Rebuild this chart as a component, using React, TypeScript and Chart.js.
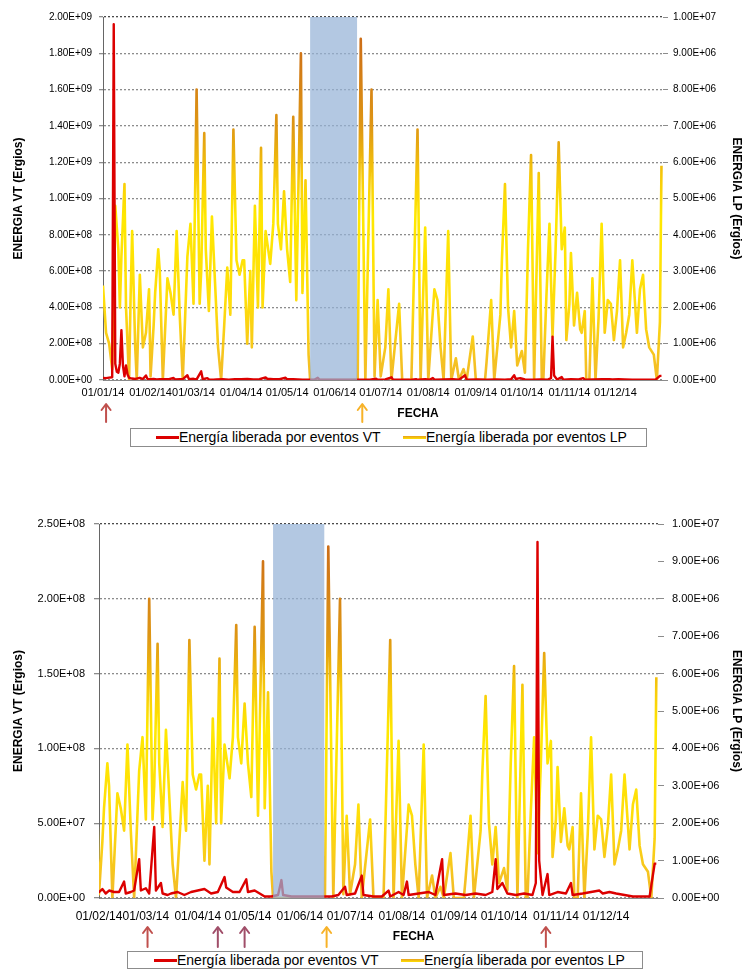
import React, { useEffect, useRef } from 'react';
import { Chart, registerables } from 'chart.js';

Chart.register(...registerables);

const SANS = "'Liberation Sans', Arial, sans-serif";

// x axis: day of year 2014 (0 = 01/01/14)
const monthDays = [0, 31, 59, 90, 120, 151, 181, 212, 243, 273, 304, 334];
const monthLabels = ['01/01/14', '01/02/14', '01/03/14', '01/04/14', '01/05/14', '01/06/14',
  '01/07/14', '01/08/14', '01/09/14', '01/10/14', '01/11/14', '01/12/14'];

// LP energy (Ergios) – right axis
const lpDays = [
  0, 2, 4, 6, 8, 10, 11, 12, 14, 15, 17, 18, 19, 21, 22, 24, 26, 28, 30, 31,
  33, 34, 36, 37, 39, 42, 44, 46, 48, 50, 52, 55, 57, 59, 61, 63, 64, 66, 67, 69,
  71, 73, 75, 77, 79, 81, 83, 85, 87, 89, 91, 92, 94, 96, 97, 99, 101, 103, 104, 106,
  109, 111, 113, 114, 116, 118, 120, 122, 124, 126, 129, 130, 132, 134, 135, 150, 166, 168, 171, 175,
  177, 179, 181, 184, 186, 188, 193, 195, 201, 205, 207, 210, 212, 216, 218, 220, 222, 225, 227, 230,
  232, 235, 237, 241, 243, 249, 250, 253, 255, 259, 260, 262, 264, 266, 268, 270, 273, 275, 277, 279,
  281, 284, 286, 287, 289, 291, 293, 295, 297, 299, 301, 302, 304, 305, 307, 309, 311, 312, 314, 315,
  317, 319, 321, 323, 325, 327, 329, 331, 333, 335, 337, 339, 341, 343, 345, 348, 350, 352, 354, 356,
  359, 361, 363, 364,
];
const lpValues = [
  2.6e6, 1.3e6, 1.0e6, 0.3e6, 4.8e6, 3.6e6, 2.0e6, 3.4e6, 5.4e6, 2.0e6, 0, 2.3e6, 4.1e6, 0.9e6, 0, 2.9e6, 0.9e6, 1.3e6, 2.5e6, 0.1e6,
  1.5e6, 2.4e6, 3.6e6, 3.0e6, 0, 2.8e6, 2.4e6, 1.8e6, 4.1e6, 1.8e6, 0, 3.4e6, 4.3e6, 2.1e6, 8.0e6, 2.1e6, 3.0e6, 6.8e6, 3.6e6, 1.9e6,
  4.5e6, 2.7e6, 0.9e6, 0, 1.5e6, 3.1e6, 1.8e6, 6.9e6, 3.3e6, 2.9e6, 3.3e6, 3.3e6, 1.0e6, 3.0e6, 0.9e6, 4.8e6, 2.0e6, 6.4e6, 2.0e6, 4.1e6,
  3.2e6, 4.3e6, 7.3e6, 4.3e6, 3.6e6, 5.2e6, 3.6e6, 2.7e6, 7.25e6, 2.2e6, 9.0e6, 2.4e6, 5.5e6, 0.7e6, 0, 0, 0, 9.4e6, 0, 8.0e6,
  0.1e6, 2.2e6, 0.1e6, 0.9e6, 2.5e6, 0, 2.1e6, 0, 0, 6.9e6, 0, 4.2e6, 0, 2.5e6, 2.2e6, 0.9e6, 0, 4.1e6, 0, 0.6e6,
  0, 0.3e6, 0, 1.2e6, 0, 0, 0.5e6, 2.2e6, 0, 1.8e6, 3.3e6, 5.4e6, 2.0e6, 0.9e6, 1.9e6, 0.4e6, 0.8e6, 0.2e6, 3.6e6, 6.2e6,
  0, 5.7e6, 0, 0, 2.3e6, 4.3e6, 1.2e6, 3.6e6, 6.55e6, 3.6e6, 4.2e6, 1.1e6, 2.1e6, 3.5e6, 1.5e6, 2.4e6, 1.4e6, 1.3e6, 1.9e6, 0,
  0, 2.8e6, 0, 1.7e6, 4.3e6, 1.3e6, 2.2e6, 2.1e6, 1.1e6, 1.9e6, 3.3e6, 0.9e6, 1.3e6, 1.8e6, 3.3e6, 1.3e6, 2.5e6, 2.9e6, 1.4e6, 0.9e6,
  0.7e6, 0, 1.6e6, 5.9e6,
];

// VT energy (Ergios) – left axis
const vtDays = [
  0, 2, 4, 6, 7, 8, 9, 10, 11, 12, 13, 14, 15, 16, 17, 19, 21, 24, 26, 28,
  29, 31, 33, 35, 37, 40, 43, 46, 47, 50, 52, 55, 56, 59, 61, 64, 65, 68, 69, 72,
  74, 78, 82, 86, 90, 94, 98, 102, 106, 107, 111, 115, 119, 120, 124, 127, 130, 134, 138, 140,
  141, 146, 150, 155, 160, 165, 170, 174, 178, 179, 184, 188, 189, 195, 200, 204, 205, 210, 213, 215,
  216, 222, 228, 232, 236, 237, 244, 250, 256, 262, 266, 268, 269, 272, 275, 280, 285, 290, 292, 293,
  294, 296, 299, 300, 305, 310, 313, 314, 320, 325, 330, 332, 336, 340, 345, 350, 355, 360, 363, 364,
];
const vtValues = [
  1.2e7, 1.0e7, 1.3e7, 1.5e7, 1.96e9, 9.0e7, 4.5e7, 4.0e7, 9.0e7, 2.75e8, 8.0e7, 2.0e7, 8.0e7, 3.0e7, 1.2e7, 8.0e6, 6.0e6, 1.2e7, 5.0e6, 2.5e7,
  6.0e6, 4.0e6, 6.0e6, 3.0e6, 5.0e6, 4.0e6, 4.0e6, 1.1e7, 3.0e6, 4.0e6, 5.0e6, 2.6e7, 5.0e6, 6.5e6, 3.0e6, 4.75e7, 5.0e6, 1.0e7, 3.0e6, 2.0e6,
  3.0e6, 4.0e6, 2.0e6, 4.0e6, 5.0e6, 6.0e6, 3.0e6, 4.0e6, 1.4e7, 7.0e6, 4.0e6, 4.0e6, 1.25e7, 4.0e6, 5.0e6, 3.0e6, 1.0e6, 1.0e6, 2.0e6, 1.2e7,
  2.0e6, 1.0e6, 1.0e6, 1.0e6, 1.0e6, 1.0e6, 1.0e6, 2.0e6, 7.5e6, 2.0e6, 3.0e6, 1.5e7, 2.0e6, 1.0e6, 1.0e6, 5.0e6, 1.0e6, 4.0e6, 2.0e6, 1.1e7,
  2.0e6, 3.0e6, 4.0e6, 2.0e6, 2.6e7, 2.0e6, 3.0e6, 2.0e6, 3.0e6, 2.0e6, 4.0e6, 2.6e7, 6.0e6, 1.0e7, 3.0e6, 2.0e6, 3.0e6, 2.0e6, 1.0e7, 2.38e8,
  2.5e7, 2.0e6, 1.6e7, 2.0e6, 4.0e6, 3.0e6, 1.0e7, 2.0e6, 3.0e6, 4.0e6, 5.0e6, 3.0e6, 4.0e6, 3.0e6, 2.0e6, 1.0e6, 1.0e6, 1.0e6, 2.3e7, 2.3e7,
];

// shaded period (no data)
const shadeStart = 135;
const shadeEnd = 165.6;

// marked events under the date axis
const topArrowDays = [2, 169];
const topArrowKinds = ['VT', 'LP'];
const bottomArrowDays = [60, 102, 118, 167, 298];
const bottomArrowKinds = ['VT', 'VT2', 'VT2', 'LP', 'VT'];

const arrowColors: Record<string, string> = {
  VT: 'rgb(192,80,77)',
  VT2: 'rgb(160,78,105)',
  LP: 'rgb(247,178,40)',
};

function sci(v: number): string {
  if (Math.abs(v) < 1e-9) return '0.00E+00';
  const [m, e] = Number(v).toExponential(2).split('e');
  const n = parseInt(e, 10);
  return m + 'E' + (n < 0 ? '-' : '+') + String(Math.abs(n)).padStart(2, '0');
}

type PanelCfg = {
  top: number; height: number; xMin: number; xMax: number;
  leftMax: number; leftStep: number; leftWidth: number; rightWidth: number;
  padTop: number; xHeight: number; yFont: number; xFont: number;
  yTickPad: number; yTickLen: number; rTickLen: number; rTickPad: number; xTickPad: number;
  fechaDy: number; arrowTip: number; arrowTail: number;
  arrowDays: number[]; arrowKinds: string[];
};

function Panel({ cfg }: { cfg: PanelCfg }) {
  const ref = useRef<HTMLCanvasElement | null>(null);
  useEffect(() => {
    const canvas = ref.current;
    if (!canvas) return;
    const p = cfg;
    const lpData = lpDays.map((d, i) => ({ x: d, y: lpValues[i] }));
    const vtData = vtDays.map((d, i) => ({ x: d, y: vtValues[i] }));

    const lpColor = (ctx: any) => {
      const chart = ctx.chart;
      const a = chart.chartArea;
      if (!a) return 'rgb(250,210,20)';
      const g = chart.ctx.createLinearGradient(0, a.top, 0, a.bottom);
      g.addColorStop(0, 'rgb(200,100,25)');
      g.addColorStop(0.3, 'rgb(222,150,20)');
      g.addColorStop(0.45, 'rgb(248,205,10)');
      g.addColorStop(0.55, 'rgb(255,232,0)');
      g.addColorStop(0.78, 'rgb(255,222,10)');
      g.addColorStop(1, 'rgb(242,185,40)');
      return g;
    };

    const shadePlugin = {
      id: 'shade',
      afterDatasetsDraw(chart: any) {
        const xs = chart.scales.x;
        const a = chart.chartArea;
        const c = chart.ctx;
        const x1 = Math.max(a.left, xs.getPixelForValue(shadeStart));
        const x2 = Math.min(a.right, xs.getPixelForValue(shadeEnd));
        c.save();
        c.fillStyle = 'rgba(149,179,215,0.72)';
        c.fillRect(x1, a.top, x2 - x1, a.bottom - a.top);
        c.restore();
      },
    };

    const extrasPlugin = {
      id: 'extras',
      afterDraw(chart: any) {
        const c = chart.ctx;
        const a = chart.chartArea;
        const xs = chart.scales.x;
        c.save();
        c.font = `bold 12px ${SANS}`;
        c.fillStyle = '#000';
        c.textAlign = 'center';
        c.textBaseline = 'middle';
        c.fillText('FECHA', (a.left + a.right) / 2 + 35, a.bottom + p.fechaDy);
        p.arrowDays.forEach((d, i) => {
          const x = xs.getPixelForValue(d);
          const y1 = a.bottom + p.arrowTip;
          const y2 = a.bottom + p.arrowTail;
          c.strokeStyle = arrowColors[p.arrowKinds[i]];
          c.lineWidth = 2;
          c.lineCap = 'round';
          c.lineJoin = 'round';
          c.beginPath();
          c.moveTo(x, y1 + 1);
          c.lineTo(x, y2);
          c.stroke();
          c.beginPath();
          c.moveTo(x - 4.5, y1 + 6);
          c.lineTo(x, y1);
          c.lineTo(x + 4.5, y1 + 6);
          c.stroke();
        });
        c.restore();
      },
    };

    const chart = new Chart(canvas, {
      type: 'line',
      data: {
        datasets: [
          {
            label: 'Energía liberada por eventos VT',
            data: vtData,
            yAxisID: 'y',
            borderColor: 'rgb(220,0,0)',
            backgroundColor: 'rgb(220,0,0)',
            borderWidth: 2.4,
            pointRadius: 0,
            tension: 0,
            fill: false,
            borderJoinStyle: 'round',
          },
          {
            label: 'Energía liberada por eventos LP',
            data: lpData,
            yAxisID: 'y1',
            borderColor: lpColor,
            backgroundColor: 'rgb(250,210,20)',
            borderWidth: 2.6,
            pointRadius: 0,
            tension: 0,
            fill: false,
            borderJoinStyle: 'round',
          },
        ],
      } as any,
      options: {
        animation: false,
        responsive: false,
        maintainAspectRatio: false,
        layout: { padding: { top: p.padTop, left: 0, right: 0, bottom: 0 } },
        plugins: { legend: { display: false }, tooltip: { enabled: false } },
        scales: {
          x: {
            type: 'linear',
            min: p.xMin,
            max: p.xMax,
            afterBuildTicks: (s: any) => {
              s.ticks = monthDays.filter((d) => d >= p.xMin && d <= p.xMax).map((v) => ({ value: v }));
            },
            ticks: {
              autoSkip: false,
              maxRotation: 0,
              minRotation: 0,
              padding: p.xTickPad,
              color: '#000',
              font: { family: SANS, size: p.xFont },
              callback: (v: any) => {
                const i = monthDays.indexOf(Number(v));
                return i >= 0 ? monthLabels[i] : '';
              },
            },
            grid: { display: false, drawTicks: false },
            border: { display: true, color: '#8a8a8a', width: 1 },
            afterFit: (s: any) => { s.height = p.xHeight; },
          },
          y: {
            position: 'left',
            min: 0,
            max: p.leftMax,
            ticks: {
              stepSize: p.leftStep,
              padding: p.yTickPad,
              color: '#000',
              font: { family: SANS, size: p.yFont },
              callback: (v: any) => sci(Number(v)),
            },
            grid: {
              color: (ctx: any) => (ctx.tick && Math.abs(ctx.tick.value - p.leftMax) < 1 ? '#4a4a4a' : '#8c8c8c'),
              lineWidth: 1.3,
              drawTicks: true,
              tickLength: p.yTickLen,
              tickColor: '#8c8c8c',
            },
            border: { display: true, color: '#666', width: 1, dash: [2, 2] },
            title: {
              display: true,
              text: 'ENERGIA VT (Ergios)',
              color: '#000',
              font: { family: SANS, size: 12, weight: 'bold' },
              padding: { top: 11, bottom: 0 },
            },
            afterFit: (s: any) => { s.width = p.leftWidth; },
          },
          y1: {
            position: 'right',
            min: 0,
            max: 1e7,
            ticks: {
              stepSize: 1e6,
              padding: p.rTickPad,
              color: '#000',
              font: { family: SANS, size: p.yFont },
              callback: (v: any) => sci(Number(v)),
            },
            grid: {
              drawOnChartArea: false,
              drawTicks: true,
              tickLength: p.rTickLen,
              tickColor: '#8c8c8c',
              color: '#8c8c8c',
            },
            border: { display: false },
            title: {
              display: true,
              text: 'ENERGIA LP (Ergios)',
              color: '#000',
              font: { family: SANS, size: 12, weight: 'bold' },
              padding: { top: 2, bottom: 0 },
            },
            afterFit: (s: any) => { s.width = p.rightWidth; },
          },
        },
      } as any,
      plugins: [shadePlugin, extrasPlugin],
    });
    return () => chart.destroy();
  }, [cfg]);
  return (
    <canvas
      ref={ref}
      width={746}
      height={cfg.height}
      style={{ position: 'absolute', left: 0, top: cfg.top, width: 746, height: cfg.height }}
    />
  );
}

type LegendCfg = { left: number; top: number; width: number; height: number; redFrom: number; lpFrom: number; };

function Legend({ cfg }: { cfg: LegendCfg }) {
  const lineLen = 23;
  const lineTop = cfg.height / 2 - 2.5;
  return (
    <div
      style={{
        position: 'absolute', left: cfg.left, top: cfg.top, width: cfg.width, height: cfg.height,
        boxSizing: 'border-box', border: '1px solid #8c8c8c', background: '#fff',
        fontFamily: SANS, fontSize: 14, color: '#000',
      }}
    >
      <div style={{ position: 'absolute', left: cfg.redFrom, top: lineTop, width: lineLen, height: 3, background: 'rgb(220,0,0)' }} />
      <span style={{ position: 'absolute', left: cfg.redFrom + lineLen, top: 0, lineHeight: `${cfg.height - 2}px`, whiteSpace: 'nowrap' }}>
        Energía liberada por eventos VT
      </span>
      <div style={{ position: 'absolute', left: cfg.lpFrom, top: lineTop, width: lineLen, height: 3, background: 'linear-gradient(to bottom, rgb(232,160,30), rgb(255,225,0))' }} />
      <span style={{ position: 'absolute', left: cfg.lpFrom + lineLen, top: 0, lineHeight: `${cfg.height - 2}px`, whiteSpace: 'nowrap' }}>
        Energía liberada por eventos LP
      </span>
    </div>
  );
}

const topPanel: PanelCfg = {
  top: 0, height: 425, xMin: 0, xMax: 365,
  leftMax: 2e9, leftStep: 2e8, leftWidth: 103, rightWidth: 83,
  padTop: 17, xHeight: 45, yFont: 10, xFont: 11,
  yTickPad: 7, yTickLen: 4, rTickLen: 5, rTickPad: 5, xTickPad: 6,
  fechaDy: 34, arrowTip: 24, arrowTail: 42,
  arrowDays: topArrowDays, arrowKinds: topArrowKinds,
};

const bottomPanel: PanelCfg = {
  top: 500, height: 450, xMin: 31, xMax: 365,
  leftMax: 2.5e8, leftStep: 5e7, leftWidth: 99, rightWidth: 88,
  padTop: 24, xHeight: 52, yFont: 11, xFont: 12,
  yTickPad: 9, yTickLen: 5, rTickLen: 6, rTickPad: 8, xTickPad: 11,
  fechaDy: 39, arrowTip: 29, arrowTail: 49,
  arrowDays: bottomArrowDays, arrowKinds: bottomArrowKinds,
};

const topLegend: LegendCfg = { left: 130, top: 428, width: 517, height: 19, redFrom: 25, lpFrom: 272 };
const bottomLegend: LegendCfg = { left: 127, top: 951, width: 516, height: 18, redFrom: 26, lpFrom: 273 };

export default function App() {
  return (
    <div style={{ position: 'absolute', left: 0, top: 0, width: 746, height: 969, overflow: 'hidden', background: '#fff' }}>
      <Panel cfg={topPanel} />
      <Legend cfg={topLegend} />
      <Panel cfg={bottomPanel} />
      <Legend cfg={bottomLegend} />
    </div>
  );
}
